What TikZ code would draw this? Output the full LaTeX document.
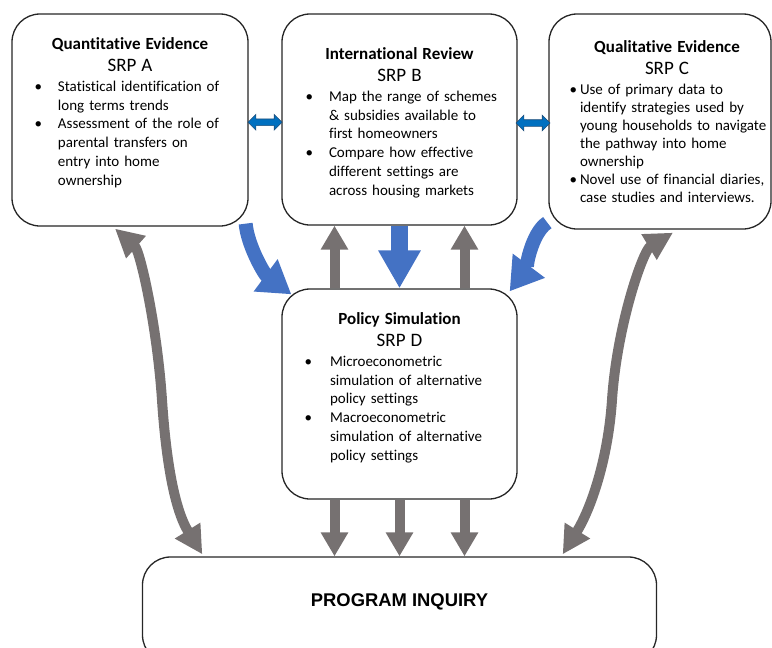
\documentclass[tikz,border=0pt]{standalone}
\usepackage{fontspec}
\setmainfont{Carlito}[Ligatures=NoCommon]
\newfontfamily\inquiryfont{Liberation Sans}
\usetikzlibrary{arrows.meta,shapes.arrows,calc}

\definecolor{feedblue}{HTML}{4472C4}
\definecolor{linkgray}{HTML}{767171}
\definecolor{swapblue}{HTML}{0070C0}
\definecolor{swapedge}{HTML}{1F4E79}

% bullet list inside the boxes: #1 = left margin, #2 = label sep
\newenvironment{srplist}[2]{%
  \begin{list}{\textbullet}{%
    \setlength\leftmargin{#1}\setlength\labelsep{#2}%
    \setlength\labelwidth{\leftmargin}\addtolength\labelwidth{-\labelsep}%
    \setlength\itemsep{0pt}\setlength\parsep{0pt}%
    \setlength\topsep{0pt}\setlength\partopsep{0pt}}\raggedright}%
  {\end{list}}
% heading: bold title and project code
\newcommand{\srphead}[2]{{\centering{\fontsize{17}{20}\selectfont\bfseries #1}\par
  \fontsize{19}{22}\selectfont #2\par}\vspace{1.5pt}}

\tikzset{
  srpbox/.style={draw=black!85, line width=1.3pt, rounded corners=28pt,
    fill=white, inner sep=0pt},
  srptext/.style={anchor=base, inner sep=0pt, text width=200pt,
    font=\fontsize{15}{18.7}\selectfont},
  feed/.style={draw=feedblue, line width=14pt, -{Triangle[length=32pt,width=38pt]}},
  link/.style={draw=linkgray, line width=10pt, -{Triangle[length=24pt,width=26pt]}},
  twoway/.style={draw=linkgray, line width=10pt,
    {Triangle[length=28pt,width=28pt]}-{Triangle[length=28pt,width=28pt]}},
  swap/.style={double arrow, fill=swapblue, draw=swapedge, line width=0.6pt,
    minimum height=34pt, inner xsep=0pt, inner ysep=3pt,
    double arrow head extend=4.5pt},
}

\begin{document}
\begin{tikzpicture}[x=1pt,y=-1pt]
  \useasboundingbox (0,0) rectangle (772,648);

  % the five boxes
  \node[srpbox, minimum width=236pt, minimum height=212pt] (qa) at (130,120) {};
  \node[srpbox, minimum width=235pt, minimum height=211pt] (ir) at (399.5,119.5) {};
  \node[srpbox, minimum width=222pt, minimum height=215pt] (ql) at (660,121.5) {};
  \node[srpbox, minimum width=235pt, minimum height=210pt] (ps) at (399.5,394) {};
  \node[srpbox, minimum width=514pt, minimum height=106pt] (pi) at (399.5,610) {};

  \node[srptext] (qa-txt) at ([shift={(0,36)}]qa.north) {%
    \srphead{Quantitative Evidence}{SRP A}
    \begin{srplist}{28pt}{16pt}
      \item Statistical identification of\\ long terms trends
      \item Assessment of the role of\\ parental transfers on\\ entry into home\\ ownership
    \end{srplist}};
  \node[srptext] (ir-txt) at ([shift={(0,46)}]ir.north) {%
    \srphead{International Review}{SRP B}
    \begin{srplist}{29.5pt}{16pt}
      \item Map the range of schemes\\ \& subsidies available to\\ first homeowners
      \item Compare how effective\\ different settings are\\ across housing markets
    \end{srplist}};
  \node[srptext, font=\fontsize{15}{18}\selectfont] (ql-txt) at ([shift={(7,39)}]ql.north) {%
    \srphead{Qualitative Evidence}{SRP C}\vspace{0.5pt}
    \begin{srplist}{13pt}{3pt}
      \item Use of primary data to\\ identify strategies used by\\ young households to navigate\\ the pathway into home\\ ownership
      \item Novel use of financial diaries,\\ case studies and interviews.
    \end{srplist}};
  \node[srptext] (ps-txt) at ([shift={(0,36)}]ps.north) {%
    \srphead{Policy Simulation}{SRP D}
    \begin{srplist}{30.5pt}{18pt}
      \item Microeconometric\\ simulation of alternative\\ policy settings
      \item Macroeconometric\\ simulation of alternative\\ policy settings
    \end{srplist}};
  \node[font=\inquiryfont\bfseries\fontsize{18.4}{22}\selectfont, inner sep=0pt]
    (pi-txt) at ([shift={(0,46)}]pi.north) {PROGRAM INQUIRY};

  % exchanges between the review boxes
  \node[swap] (qa-ir) at ([yshift=-2.5pt]$(qa.east)!0.5!(ir.west)$) {};
  \node[swap] (ir-ql) at ([yshift=-2.5pt]$(ir.east)!0.5!(ql.west)$) {};

  % inputs to the simulation
  \draw[feed] ([shift={(-3,-3)}]qa.south east) .. controls +(2,22) and +(-27,-20) .. ([shift={(10,6)}]ps.north west);
  \draw[feed] ([shift={(-1,-7)}]ql.south west) .. controls +(-16,10) and +(15,-20) .. ([shift={(-8,3)}]ps.north east);
  \draw[draw=feedblue, line width=17pt, -{Triangle[length=38pt,width=40pt]}] (ir.south) -- (ps.north);

  % simulation back to the review and on to the inquiry
  \foreach \dx in {-65,65}
    \draw[link] ([xshift=\dx pt]ps.north) -- ([xshift=\dx pt]ir.south);
  \foreach \dx in {-65,0,65}
    \draw[link] ([xshift=\dx pt]ps.south) -- ([xshift=\dx pt]pi.north);

  % evidence boxes and the inquiry
  \draw[twoway] ([shift={(-15,2)}]qa.south) .. controls +(25,22) and +(-5,-75) .. (162,400)
    .. controls +(4,60) and +(-28,-45) .. ([shift={(60.5,-2)}]pi.north west);
  \draw[twoway] ([shift={(13,3)}]ql.south) .. controls +(-30,18) and +(5,-75) .. (612,400)
    .. controls +(-4,60) and +(28,-45) .. ([shift={(-94.5,-2)}]pi.north east);
\end{tikzpicture}
\end{document}
